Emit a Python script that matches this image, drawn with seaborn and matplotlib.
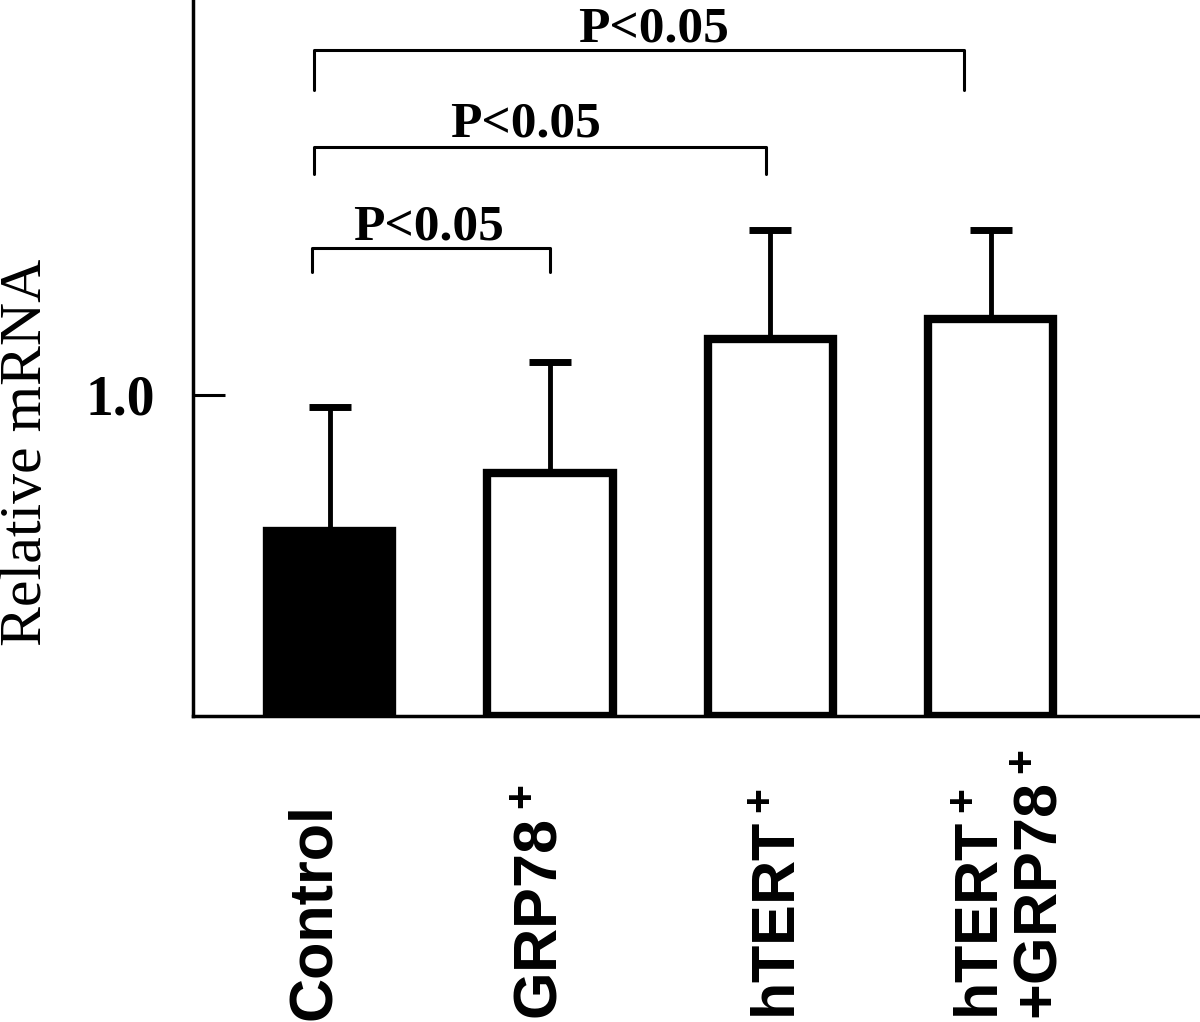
import numpy as np
import matplotlib
matplotlib.use("Agg")
import matplotlib.pyplot as plt
import seaborn as sns

# data
groups = ["Control", "GRP78+", "hTERT+", "hTERT+GRP78+"]
group_labels = ["Control", "GRP78$\\,^{+}$", "hTERT$\\,^{+}$", "hTERT$\\,^{+}$\n+GRP78$\\,^{+}$"]
means = [0.576, 0.757, 1.174, 1.237]
sd_up = [0.387, 0.346, 0.340, 0.277]
fills = ["black", "white", "white", "white"]

# significance brackets: (left group, right group, text)
comparisons = [(0, 1, "P<0.05"), (0, 2, "P<0.05"), (0, 3, "P<0.05")]

sns.set_style("white")
plt.rcParams["font.family"] = ["Liberation Serif", "DejaVu Serif"]
plt.rcParams["text.color"] = "black"
plt.rcParams["ytick.color"] = "black"
plt.rcParams["mathtext.fontset"] = "custom"
plt.rcParams["mathtext.rm"] = "Liberation Sans:bold"
plt.rcParams["mathtext.bf"] = "Liberation Sans:bold"
plt.rcParams["mathtext.it"] = "Liberation Sans:bold"

fig = plt.figure(figsize=(12, 10.22), dpi=100)
ax = fig.add_axes([193 / 1200, 1 - 716 / 1022, 1007 / 1200, 716 / 1022])

sns.barplot(x=groups, y=means, hue=groups, palette=dict(zip(groups, fills)),
            legend=False, edgecolor="black", linewidth=6, width=0.57,
            saturation=1, ax=ax, zorder=3)
ax.errorbar(x=np.arange(len(groups)), y=means,
            yerr=[np.zeros(len(groups)), sd_up], fmt="none", ecolor="black",
            elinewidth=3.5, capsize=15, capthick=5, zorder=2)

ax.set_xlim(-0.62, 3.95)
ax.set_ylim(0, 2.23)

# spines
sns.despine(ax=ax, top=True, right=True)
for s in ["left", "bottom"]:
    ax.spines[s].set_linewidth(2.5)
    ax.spines[s].set_color("black")

ax.set_yticks([1.0])
ax.set_yticklabels(["1.0"], fontsize=40, fontweight="bold",
                   family=["Liberation Serif", "DejaVu Serif"], color="black")
ax.tick_params(axis="y", direction="in", length=23, width=2.2, pad=27,
               left=True, color="black")
ax.tick_params(axis="x", bottom=False, labelbottom=False)
ax.set_xlabel("")
ax.set_ylabel("")

fig.text(27 / 1200, 1 - 452 / 1022, "Relative mRNA", rotation=90,
         ha="center", va="center", fontsize=43, color="black",
         family=["Liberation Serif", "DejaVu Serif"])

# x labels, bottom aligned
trans = ax.get_xaxis_transform()
label_dx = [-0.07, -0.035, 0.045, 0.1]
for i, lab in enumerate(group_labels):
    ax.text(i + label_dx[i], -0.424, lab, transform=trans, rotation=90,
            ha="center", va="bottom", multialignment="left",
            fontsize=44, fontweight="bold", linespacing=1.05, color="black",
            family=["Liberation Sans", "DejaVu Sans"], clip_on=False)

# brackets
bracket_top = [1.458, 1.773, 2.075]
bracket_leg = [1.383, 1.688, 1.950]
bracket_x0 = [-0.08, -0.07, -0.07]
bracket_x1 = [1.0, 1.98, 2.88]
text_x = [0.45, 0.89, 1.47]
text_y = [1.483, 1.804, 2.10]
for k, (a, b, txt) in enumerate(comparisons):
    ax.plot([bracket_x0[k], bracket_x0[k], bracket_x1[k], bracket_x1[k]],
            [bracket_leg[k], bracket_top[k], bracket_top[k], bracket_leg[k]],
            color="black", lw=2.2, clip_on=False, zorder=4)
    ax.text(text_x[k], text_y[k], txt, ha="center", va="baseline",
            fontsize=37, fontweight="bold", color="black",
            family=["Liberation Serif", "DejaVu Serif"])

fig.savefig("out.png", dpi=100)
